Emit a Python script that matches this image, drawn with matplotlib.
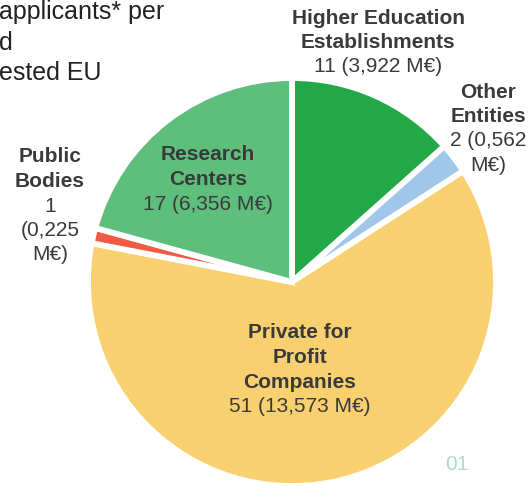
import matplotlib
matplotlib.use('Agg')
import matplotlib.pyplot as plt

# pie data, clockwise from 12 o'clock
names = [['Higher Education', 'Establishments'],
         ['Other', 'Entities'],
         ['Private for', 'Profit', 'Companies'],
         ['Public', 'Bodies'],
         ['Research', 'Centers']]
counts = [11, 2, 51, 1, 17]
funding = ['3,922', '0,562', '13,573', '0,225', '6,356']
colors = ['#22a846', '#a0c6e9', '#f8d070', '#ef5b45', '#5dbf7b']

# value lines are wrapped differently for the narrow labels on the sides
value_lines = [['11 (3,922 M€)'],
               ['2 (0,562', 'M€)'],
               ['51 (13,573 M€)'],
               ['1', '(0,225', 'M€)'],
               ['17 (6,356 M€)']]

title_lines = ['applicants* per', 'd', 'ested EU']

W, H = 529, 483
DPI = 100
plt.rcParams['font.family'] = ['Liberation Sans', 'DejaVu Sans']
fig = plt.figure(figsize=(W / DPI, H / DPI), dpi=DPI)

cx, cy, r = 292, 282, 204
ax = fig.add_axes([(cx - r) / W, (H - cy - r) / H, 2 * r / W, 2 * r / H])
ax.pie(counts, colors=colors, startangle=90, counterclock=False,
       wedgeprops=dict(edgecolor='white', linewidth=4.2))
ax.set_xlim(-1, 1)
ax.set_ylim(-1, 1)
ax.set_aspect('equal')
ax.axis('off')


def px(x, y):
    return x / W, 1 - y / H


# label anchors: center x, y of first line (pixels from top-left)
label_pos = [(378, 18), (488, 92), (300, 333), (50, 157), (208, 155)]
step = 24.5
text_color = '#3a3a3a'
for name, vals, (x, y) in zip(names, value_lines, label_pos):
    i = 0
    for line in name:
        fig.text(*px(x, y + i * step), line, ha='center', va='center',
                 fontsize=15, fontweight='bold', color=text_color)
        i += 1
    for line in vals:
        fig.text(*px(x, y + i * step), line, ha='center', va='center',
                 fontsize=15, color=text_color)
        i += 1

for i, line in enumerate(title_lines):
    fig.text(*px(-1, 12 + i * 30.5), line, ha='left', va='center',
             fontsize=18, color='#222222')

fig.text(*px(457, 465), '01', ha='center', va='center', fontsize=15,
         color='#b3dbc0')

fig.savefig('out.png', dpi=DPI)
